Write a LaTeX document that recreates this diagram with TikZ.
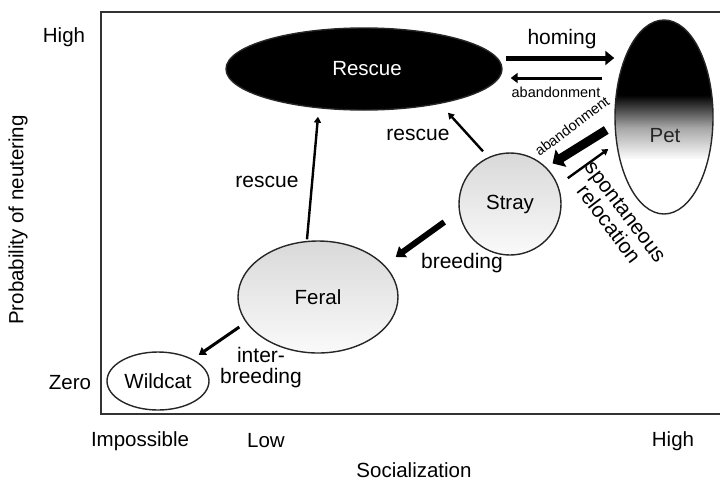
\documentclass[tikz,border=0pt]{standalone}
\usepackage{fontspec}
\setmainfont{Liberation Sans}
\usetikzlibrary{arrows.meta,shapes.geometric}
\begin{document}
\begin{tikzpicture}[x=1pt,y=-1pt,
  lbl/.style={font=\fontsize{21}{21}\selectfont, inner sep=0pt, align=center},
  axl/.style={font=\fontsize{20.5}{22}\selectfont, inner sep=0pt},
  small/.style={font=\fontsize{14.5}{16}\selectfont, inner sep=0pt},
  state/.style={draw=black!85, line width=1.4pt, inner sep=0pt, font=\fontsize{20.5}{22}\selectfont},
  fat/.style={line width=#1, -{Triangle[length=9pt,width=14pt]}},
  thin/.style={line width=2.4pt, -{Triangle[length=6pt,width=7pt]}}
]
\useasboundingbox (0,0) rectangle (720,483);
% frame
\draw[line width=2.5pt, draw=black!80] (722,12) -- (101,12) -- (101,414) -- (722,414);

% nodes
\node[state, ellipse, fill=black, text=white, minimum width=276pt, minimum height=82pt] (rescue) at (364,69) {\hspace*{6pt}Rescue};
\begin{scope}
  \clip (664,117) ellipse [x radius=49pt, y radius=97pt];
  \fill[black] (610,15) rectangle (720,96);
  \shade[top color=black, bottom color=white, middle color=black!35] (610,95) rectangle (720,160);
  \fill[white] (610,159) rectangle (720,220);
\end{scope}
\node[state, ellipse, minimum width=98pt, minimum height=194pt] (pet) at (664,117) {};
\node[state, draw=none, text=black!85] (petlabel) at (665,136) {Pet};
\node[state, circle, top color=black!15, bottom color=black!2, minimum size=102pt] (stray) at (510,204) {Stray};
\node[state, ellipse, top color=black!15, bottom color=black!2, minimum width=160pt, minimum height=112pt] (feral) at (318,297) {Feral};
\node[state, ellipse, fill=white, minimum width=102pt, minimum height=58pt] (wildcat) at (158,381) {Wildcat};

% connectors
\draw[fat=5pt] ([shift={(3,-11)}]rescue.east) -- ([shift={(0,-59)}]pet.west);
\draw[line width=3pt, -{Triangle[length=7pt,width=10pt]}] ([shift={(-12,-39)}]pet.west) -- ([shift={(8,9)}]rescue.east);
\draw[line width=9pt, -{Triangle[length=10pt,width=20pt]}] ([shift={(-8,13)}]pet.west) -- ([shift={(6,-4)}]stray.45);
\draw[thin] ([shift={(13,0)}]stray.30) -- ([shift={(-6,32)}]pet.west);
\draw[thin] ([shift={(-27,-1)}]stray.north) -- ([shift={(84,2)}]rescue.south);
\draw[thin] ([shift={(-11,-1)}]feral.north) -- ([shift={(-46,6)}]rescue.south);
\draw[line width=6pt, -{Triangle[length=9pt,width=13pt]}] ([shift={(-14,18)}]stray.west) -- ([shift={(-3,-40)}]feral.east);
\draw[line width=3pt, -{Triangle[length=7pt,width=9pt]}] ([shift={(2,30)}]feral.west) -- ([shift={(-11,-26)}]wildcat.east);

% connector labels
\node[lbl] (lhoming) at (562,39) {homing};
\node[small] (laband1) at (556,92) {abandonment};
\node[small, rotate=36.7] (laband2) at (572,126) {abandonment};
\node[lbl, rotate=-53] (lspont) at (617,218) {spontaneous\\relocation};
\node[lbl] (lrescue1) at (418,135) {rescue};
\node[lbl] (lrescue2) at (267,182) {rescue};
\node[lbl] (lbreed) at (462,263) {breeding};
\node[lbl] (linter) at (261,368) {inter-\\breeding};

% axes
\node[axl] (yhigh) at (64,37) {High};
\node[axl] (yzero) at (70,383) {Zero};
\node[axl, rotate=90] (ylab) at (18,220) {Probability of neutering};
\node[axl] (ximp) at (140,441) {Impossible};
\node[axl] (xlow) at (266,441) {Low};
\node[axl] (xhigh) at (673,441) {High};
\node[axl] (xlab) at (414,470) {Socialization};
\end{tikzpicture}
\end{document}
